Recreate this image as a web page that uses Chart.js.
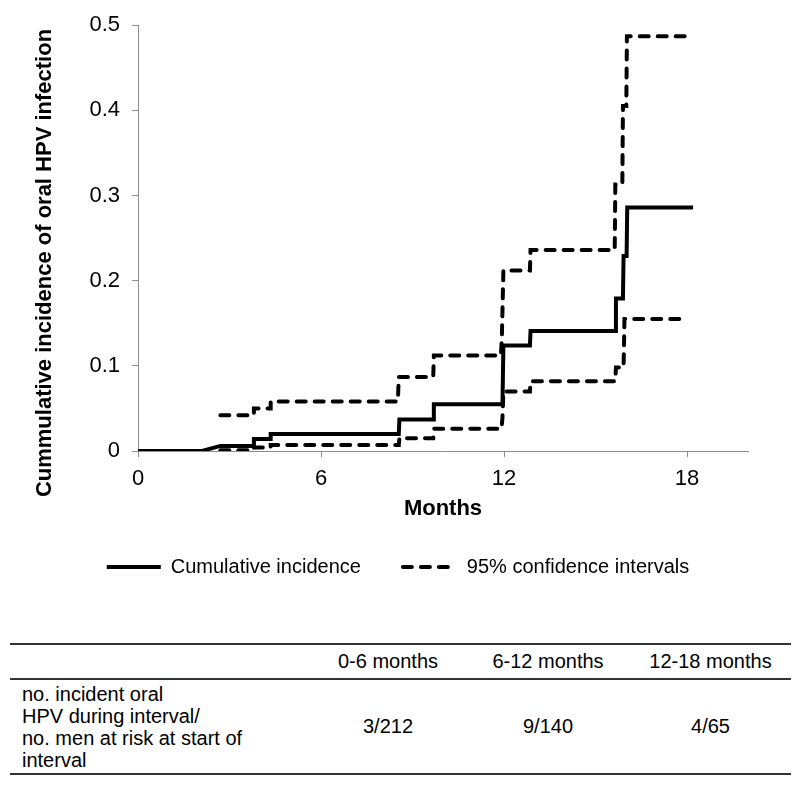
<!DOCTYPE html>
<html>
<head>
<meta charset="utf-8">
<script src="https://cdn.jsdelivr.net/npm/chart.js@4"></script>
<style>
  body { margin: 0; background: #fff; font-family: "Liberation Sans", Arial, sans-serif; }
  #wrap { position: relative; width: 800px; height: 785px; }
  canvas { position: absolute; left: 0; top: 0; }
  table {
    position: absolute; left: 10px; top: 643px; width: 781px;
    border-collapse: collapse; font-size: 20px; color: #000;
  }
  th, td { padding: 0; font-weight: normal; }
  thead tr { border-top: 2px solid #333; border-bottom: 2px solid #333; height: 35px; }
  tbody tr { border-bottom: 2px solid #333; height: 95px; }
  .lab { text-align: left; padding-left: 12px; line-height: 22px; width: 288px; }
  .c { text-align: center; }
</style>
</head>
<body>
<div id="wrap">
  <canvas id="chart" width="800" height="600"></canvas>
  <table>
    <thead>
      <tr><th class="lab"></th><th class="c" style="width:156px">0-6 months</th><th class="c" style="width:164px">6-12 months</th><th class="c">12-18 months</th></tr>
    </thead>
    <tbody>
      <tr><td class="lab">no. incident oral<br>HPV during interval/<br>no. men at risk at start of<br>interval</td><td class="c">3/212</td><td class="c">9/140</td><td class="c">4/65</td></tr>
    </tbody>
  </table>
</div>
<script>
// months / cumulative incidence (step curve)
const incX = [0, 2.1, 2.7, 3.8, 3.8, 4.35, 4.35, 8.55, 8.57, 9.68, 9.7, 11.95, 11.98, 12.85, 12.87, 15.65, 15.67, 15.9, 15.92, 16.02, 16.04, 18.2];
const incY = [0, 0, 0.006, 0.006, 0.014, 0.014, 0.02, 0.02, 0.037, 0.037, 0.055, 0.055, 0.124, 0.124, 0.141, 0.141, 0.179, 0.179, 0.229, 0.229, 0.286, 0.286];

// upper 95% CI
const upX = [2.7, 3.8, 3.8, 4.35, 4.35, 8.52, 8.55, 9.68, 9.7, 11.9, 11.93, 11.98, 12.85, 12.87, 15.63, 15.65, 15.88, 15.9, 16.01, 16.03, 18.2];
const upY = [0.042, 0.042, 0.05, 0.05, 0.058, 0.058, 0.087, 0.087, 0.112, 0.112, 0.134, 0.212, 0.212, 0.236, 0.236, 0.313, 0.313, 0.405, 0.405, 0.487, 0.487];

// lower 95% CI
const loX = [2.7, 3.8, 3.8, 4.35, 4.35, 8.55, 8.57, 9.68, 9.7, 11.92, 11.95, 11.98, 12.85, 12.87, 15.65, 15.67, 15.92, 15.95, 18.0];
const loY = [0.001, 0.001, 0.004, 0.004, 0.007, 0.007, 0.015, 0.015, 0.026, 0.026, 0.04, 0.07, 0.07, 0.082, 0.082, 0.098, 0.098, 0.155, 0.155];

const xTicks = [0, 6, 12, 18];
const yTicks = [0, 0.1, 0.2, 0.3, 0.4, 0.5];
const seriesNames = ["Cumulative incidence", "95% confidence intervals"];
const xTitle = "Months";
const yTitle = "Cummulative incidence of oral HPV infection";

const FONT = '"Liberation Sans", Arial, sans-serif';
const AXIS = "#8c8c8c";
const pts = (xs, ys) => xs.map((x, i) => ({ x, y: ys[i] }));

// rotated y title, placed like the original
const yTitlePlugin = {
  id: "yTitle",
  afterDraw(chart) {
    const ctx = chart.ctx;
    ctx.save();
    ctx.translate(45, 263);
    ctx.rotate(-Math.PI / 2);
    ctx.font = "bold 22px " + FONT;
    ctx.fillStyle = "#000";
    ctx.textAlign = "center";
    ctx.textBaseline = "middle";
    ctx.fillText(yTitle, 0, 0);
    ctx.restore();
  }
};

const dashed = { borderColor: "#000", borderWidth: 4, borderDash: [9, 9], borderCapStyle: "round", pointRadius: 0, tension: 0, fill: false };

new Chart(document.getElementById("chart"), {
  type: "line",
  data: {
    datasets: [
      { label: seriesNames[0], data: pts(incX, incY), borderColor: "#000", borderWidth: 4, borderCapStyle: "butt", borderJoinStyle: "miter", pointRadius: 0, tension: 0, fill: false },
      { label: seriesNames[1], data: pts(upX, upY), ...dashed },
      { label: seriesNames[1], data: pts(loX, loY), ...dashed }
    ]
  },
  options: {
    responsive: false,
    animation: false,
    devicePixelRatio: 1,
    layout: { padding: { left: 48, right: 52, top: 19, bottom: 13 } },
    plugins: {
      tooltip: { enabled: false },
      legend: {
        position: "bottom",
        labels: {
          // point-style items lose the dataset's dash, put it back
          generateLabels: (chart) =>
            Chart.defaults.plugins.legend.labels.generateLabels(chart).map((item) => {
              const ds = chart.data.datasets[item.datasetIndex];
              return { ...item, lineDash: ds.borderDash || [], lineCap: ds.borderCapStyle, lineWidth: 4 };
            }),
          filter: (item) => item.datasetIndex !== 2,
          usePointStyle: true,
          pointStyle: "line",
          pointStyleWidth: 54,
          boxHeight: 10,
          padding: 42,
          color: "#000",
          font: { family: FONT, size: 20 }
        }
      }
    },
    scales: {
      x: {
        type: "linear",
        min: 0,
        max: 20,
        afterBuildTicks: (s) => { s.ticks = xTicks.map((v) => ({ value: v })); },
        afterFit: (s) => { s.height = 64; },
        ticks: { color: "#000", font: { family: FONT, size: 22 }, padding: 9, maxRotation: 0 },
        grid: { drawOnChartArea: false, drawTicks: true, tickLength: 6, color: AXIS },
        border: { display: true, color: AXIS, width: 1 },
        title: { display: true, text: xTitle, color: "#000", font: { family: FONT, size: 22, weight: "bold" }, padding: { top: 0, bottom: -7 } }
      },
      y: {
        min: 0,
        max: 0.5,
        afterBuildTicks: (s) => { s.ticks = yTicks.map((v) => ({ value: v })); },
        afterFit: (s) => { s.width = 90; },
        ticks: { color: "#000", font: { family: FONT, size: 22 }, padding: 12, callback: (v) => (v === 0 ? "0" : v.toFixed(1)) },
        grid: { drawOnChartArea: false, drawTicks: true, tickLength: 6, color: AXIS },
        border: { display: true, color: AXIS, width: 1 }
      }
    }
  },
  plugins: [yTitlePlugin]
});
</script>
</body>
</html>
